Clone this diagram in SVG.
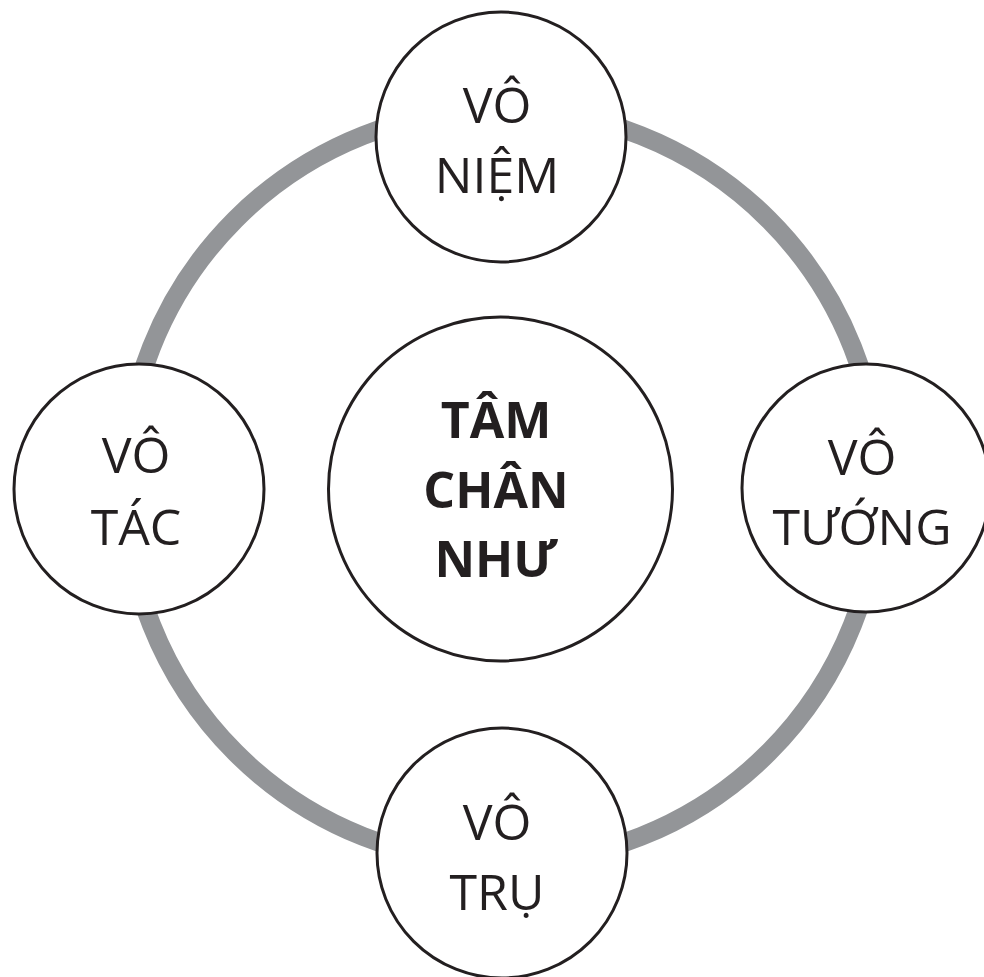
<svg xmlns="http://www.w3.org/2000/svg" width="984" height="977" viewBox="0 0 984 977">
<style>
.node{fill:#fff;stroke:#231f20;stroke-width:3}
.t{font-family:"Open Sans","Liberation Sans",sans-serif;font-size:50px;fill:#231f20;text-anchor:middle}
.b{font-weight:bold}
.ring{fill:none;stroke:#939598;stroke-width:19}
</style>
<rect width="984" height="977" fill="#fff"/>
<g id="connectors">
<circle class="ring" cx="502" cy="486" r="377"/>
</g>
<g id="center">
<circle class="node" cx="500.5" cy="489" r="172"/>
<text class="t b" x="496" y="438">TÂM</text>
<text class="t b" x="496" y="508">CHÂN</text>
<text class="t b" x="496" y="577">NHƯ</text>
</g>
<g id="vo-niem">
<circle class="node" cx="501" cy="137" r="125"/>
<text class="t" x="497" y="123">VÔ</text>
<text class="t" x="497" y="193">NIỆM</text>
</g>
<g id="vo-tac">
<circle class="node" cx="139" cy="489" r="125"/>
<text class="t" x="136" y="473">VÔ</text>
<text class="t" x="136" y="545">TÁC</text>
</g>
<g id="vo-tuong">
<circle class="node" cx="866" cy="488" r="124"/>
<text class="t" x="862" y="475">VÔ</text>
<text class="t" x="862" y="545">TƯỚNG</text>
</g>
<g id="vo-tru">
<circle class="node" cx="502" cy="853" r="125"/>
<text class="t" x="497" y="840">VÔ</text>
<text class="t" x="497" y="910">TRỤ</text>
</g>
</svg>
